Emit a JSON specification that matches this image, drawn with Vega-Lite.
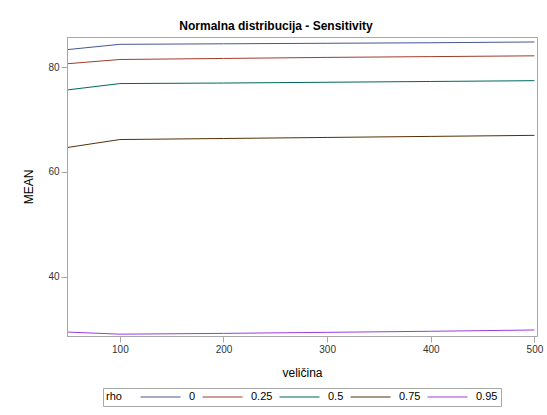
{
  "$schema": "https://vega.github.io/schema/vega-lite/v6.json",
  "width": 470,
  "height": 299,
  "autosize": {"type": "none"},
  "padding": {"left": 67, "top": 37, "right": 10, "bottom": 79},
  "background": "white",
  "title": {
    "text": "Normalna distribucija - Sensitivity",
    "font": "Liberation Sans",
    "fontSize": 12,
    "fontWeight": "bold",
    "color": "#000000",
    "anchor": "middle",
    "dx": -26,
    "offset": 4
  },
  "data": {
    "values": [
      {"velicina": 50, "MEAN": 83.4, "rho": "0"},
      {"velicina": 100, "MEAN": 84.4, "rho": "0"},
      {"velicina": 200, "MEAN": 84.5, "rho": "0"},
      {"velicina": 300, "MEAN": 84.6, "rho": "0"},
      {"velicina": 400, "MEAN": 84.7, "rho": "0"},
      {"velicina": 500, "MEAN": 84.85, "rho": "0"},
      {"velicina": 50, "MEAN": 80.7, "rho": "0.25"},
      {"velicina": 100, "MEAN": 81.5, "rho": "0.25"},
      {"velicina": 200, "MEAN": 81.7, "rho": "0.25"},
      {"velicina": 300, "MEAN": 81.9, "rho": "0.25"},
      {"velicina": 400, "MEAN": 82.05, "rho": "0.25"},
      {"velicina": 500, "MEAN": 82.2, "rho": "0.25"},
      {"velicina": 50, "MEAN": 75.7, "rho": "0.5"},
      {"velicina": 100, "MEAN": 76.9, "rho": "0.5"},
      {"velicina": 200, "MEAN": 77.0, "rho": "0.5"},
      {"velicina": 300, "MEAN": 77.15, "rho": "0.5"},
      {"velicina": 400, "MEAN": 77.3, "rho": "0.5"},
      {"velicina": 500, "MEAN": 77.45, "rho": "0.5"},
      {"velicina": 50, "MEAN": 64.7, "rho": "0.75"},
      {"velicina": 100, "MEAN": 66.2, "rho": "0.75"},
      {"velicina": 200, "MEAN": 66.4, "rho": "0.75"},
      {"velicina": 300, "MEAN": 66.6, "rho": "0.75"},
      {"velicina": 400, "MEAN": 66.8, "rho": "0.75"},
      {"velicina": 500, "MEAN": 67.0, "rho": "0.75"},
      {"velicina": 50, "MEAN": 29.4, "rho": "0.95"},
      {"velicina": 100, "MEAN": 29.0, "rho": "0.95"},
      {"velicina": 200, "MEAN": 29.15, "rho": "0.95"},
      {"velicina": 300, "MEAN": 29.35, "rho": "0.95"},
      {"velicina": 400, "MEAN": 29.55, "rho": "0.95"},
      {"velicina": 500, "MEAN": 29.8, "rho": "0.95"}
    ]
  },
  "mark": {"type": "line", "strokeWidth": 1, "interpolate": "linear"},
  "encoding": {
    "x": {
      "field": "velicina",
      "type": "quantitative",
      "title": "veličina",
      "scale": {"domain": [49, 502.5], "nice": false, "zero": false},
      "axis": {"values": [100, 200, 300, 400, 500], "titlePadding": 13}
    },
    "y": {
      "field": "MEAN",
      "type": "quantitative",
      "title": "MEAN",
      "scale": {"domain": [28.65, 85.8], "nice": false, "zero": false},
      "axis": {"values": [40, 60, 80], "titlePadding": 12}
    },
    "color": {
      "field": "rho",
      "type": "nominal",
      "title": "rho",
      "scale": {
        "domain": ["0", "0.25", "0.5", "0.75", "0.95"],
        "range": ["#445694", "#A23A2E", "#01665E", "#543005", "#9D3CDB"]
      },
      "legend": {
        "orient": "none",
        "legendX": 36,
        "legendY": 351,
        "direction": "horizontal",
        "titleOrient": "left",
        "titleBaseline": "middle",
        "titleAnchor": "middle",
        "symbolType": "stroke",
        "symbolSize": 1600,
        "symbolStrokeWidth": 1,
        "clipHeight": 12,
        "labelOffset": 8,
        "columnPadding": 6,
        "titlePadding": 18,
        "padding": 3,
        "strokeColor": "#a8a8a8",
        "labelFont": "Liberation Sans",
        "labelFontSize": 11,
        "labelColor": "#000000",
        "titleFont": "Liberation Sans",
        "titleFontSize": 11,
        "titleFontWeight": "normal",
        "titleColor": "#000000"
      }
    }
  },
  "config": {
    "view": {"stroke": "#a8a8a8", "strokeWidth": 1},
    "axis": {
      "grid": false,
      "domainColor": "#a8a8a8",
      "tickColor": "#a8a8a8",
      "tickSize": 6,
      "labelFont": "Liberation Sans",
      "labelFontSize": 10,
      "labelColor": "#333333",
      "labelPadding": 2,
      "titleFont": "Liberation Sans",
      "titleFontSize": 12,
      "titleFontWeight": "normal",
      "titleColor": "#000000"
    }
  }
}
